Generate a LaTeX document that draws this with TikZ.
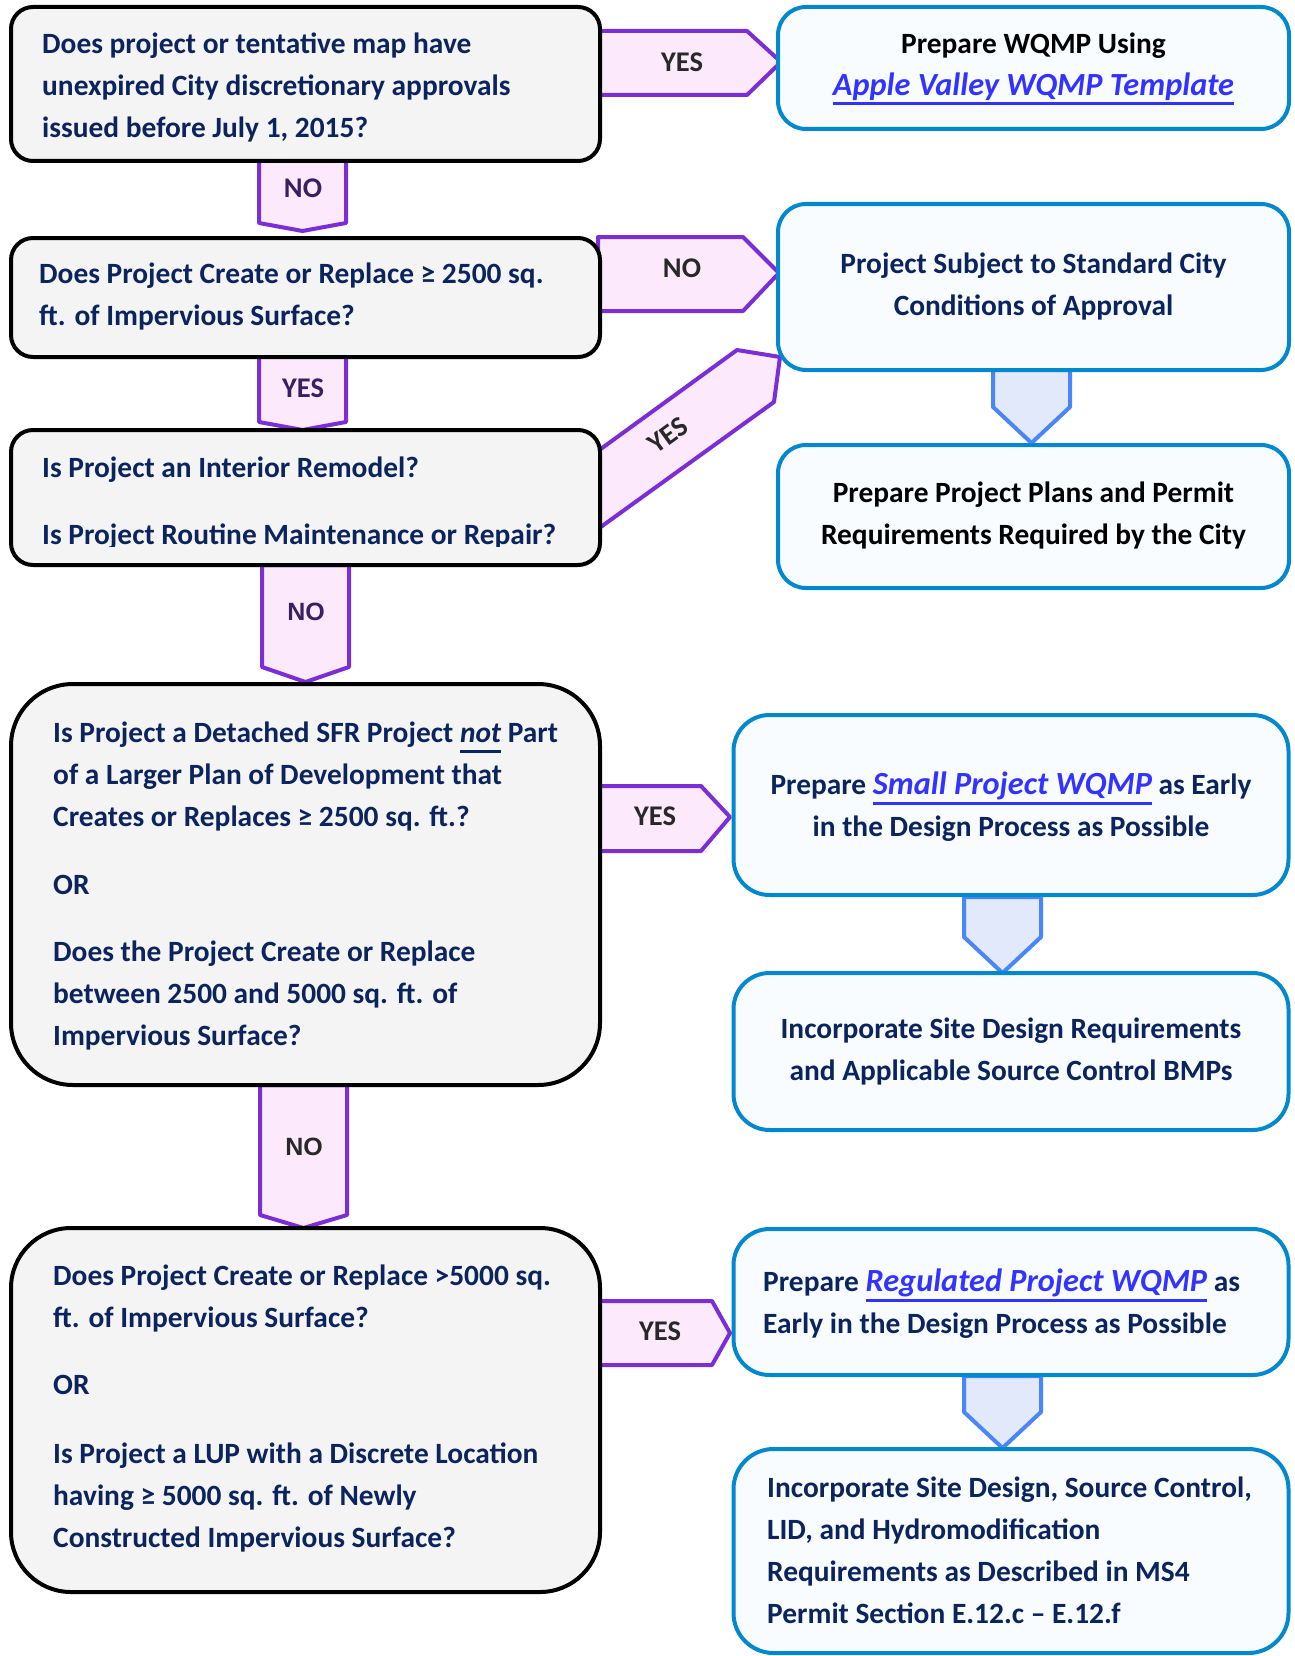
\documentclass[tikz,border=0pt]{standalone}
\usepackage{fontspec}
\setmainfont{Carlito}
\newfontfamily\arialfont{Liberation Sans}
\definecolor{navy}{RGB}{12,36,94}
\definecolor{qfill}{RGB}{244,244,244}
\definecolor{afill}{RGB}{248,252,255}
\definecolor{aborder}{RGB}{2,136,204}
\definecolor{pborder}{RGB}{124,46,214}
\definecolor{pfill}{RGB}{252,234,252}
\definecolor{bborder}{RGB}{74,134,248}
\definecolor{bfill}{RGB}{225,233,251}
\definecolor{linkblue}{RGB}{51,51,255}
\definecolor{lblp}{RGB}{58,32,96}
\definecolor{lblg}{RGB}{40,40,40}
\newsavebox\ulbox
\newcommand\ulx[1]{\sbox\ulbox{#1}\rlap{\rule[-10pt]{\wd\ulbox}{3pt}}\usebox\ulbox}
\newcommand\lnk[1]{{\color{linkblue}\ulx{\fontsize{32.3}{42}\selectfont\itshape #1}}}
\tikzset{
  qbox/.style={draw=black, line width=4pt, fill=qfill, rounded corners=22pt, inner sep=0pt},
  abox/.style={draw=aborder, line width=4pt, fill=afill, rounded corners=28pt, inner sep=0pt},
  parrow/.style={draw=pborder, line width=4pt, fill=pfill, line join=round},
  barrow/.style={draw=bborder, line width=4pt, fill=bfill, line join=round},
  txt/.style={font=\fontsize{29.4}{42}\selectfont\bfseries, text=navy, inner sep=0pt},
  qtext/.style={txt, align=left, anchor=west},
  ctext/.style={txt, align=center},
  lblc/.style={font=\fontsize{28.5}{32}\selectfont\bfseries, inner sep=0pt},
  lbla/.style={font=\arialfont\fontsize{25}{30}\selectfont\bfseries, inner sep=0pt},
}
\begin{document}
\begin{tikzpicture}[x=1pt,y=-1pt]
\useasboundingbox (0,0) rectangle (1294,1656);

% ---------- block arrows (drawn first) ----------
\draw[parrow] (598,31) -- (747,31) -- (781,62) -- (747,95) -- (598,95) -- cycle;
\draw[parrow] (598,237) -- (743,237) -- (779,273) -- (743,311) -- (598,311) -- cycle;
\draw[parrow] (598,786) -- (701,786) -- (730,817) -- (701,851) -- (598,851) -- cycle;
\draw[parrow] (598,1301) -- (712,1301) -- (730,1333) -- (712,1365) -- (598,1365) -- cycle;
\draw[parrow] (598,451) -- (737,350) -- (780,357) -- (774,402) -- (598,529) -- cycle;
\draw[parrow] (259,158) -- (346,158) -- (346,223) -- (302.5,231) -- (259,223) -- cycle;
\draw[parrow] (259,355) -- (346,355) -- (346,422) -- (302.5,430) -- (259,422) -- cycle;
\draw[parrow] (262,565) -- (349,565) -- (349,667) -- (305.5,682) -- (262,667) -- cycle;
\draw[parrow] (260,1085) -- (347,1085) -- (347,1215) -- (303.5,1228) -- (260,1215) -- cycle;
\draw[barrow] (993,368) -- (1070,368) -- (1070,407) -- (1031.5,443) -- (993,407) -- cycle;
\draw[barrow] (964,897) -- (1041,897) -- (1041,937) -- (1002.5,973) -- (964,937) -- cycle;
\draw[barrow] (964,1376) -- (1041,1376) -- (1041,1412) -- (1002.5,1448) -- (964,1412) -- cycle;

% ---------- boxes ----------
\node[qbox, minimum width=589pt, minimum height=154pt] (Q1) at (305.5,84) {};
\node[qbox, minimum width=589pt, minimum height=119pt] (Q2) at (305.5,297.5) {};
\node[qbox, minimum width=589pt, minimum height=135pt] (Q3) at (305.5,497.5) {};
\node[qbox, rounded corners=62pt, minimum width=589pt, minimum height=401pt] (Q4) at (305.5,884.5) {};
\node[qbox, rounded corners=60pt, minimum width=589pt, minimum height=364pt] (Q5) at (305.5,1410) {};

\node[abox, minimum width=511pt, minimum height=122pt] (A1) at (1033.5,68) {};
\node[abox, minimum width=511pt, minimum height=166pt] (A2) at (1033.5,287) {};
\node[abox, minimum width=511pt, minimum height=143pt] (A3) at (1033.5,516.5) {};
\node[abox, rounded corners=36pt, minimum width=555pt, minimum height=180pt] (A4) at (1011,805) {};
\node[abox, rounded corners=36pt, minimum width=555pt, minimum height=157pt] (A5) at (1011,1051.5) {};
\node[abox, rounded corners=36pt, minimum width=555pt, minimum height=146pt] (A6) at (1011,1302) {};
\node[abox, rounded corners=40pt, minimum width=555pt, minimum height=204pt] (A7) at (1011,1551) {};

% ---------- texts ----------
\node[qtext] at (42,87) {Does project or tentative map have\\unexpired City discretionary approvals\\issued before July 1, 2015?};
\node[qtext] at (39,296) {Does Project Create or Replace ≥ 2500 sq.\\ft. of Impervious Surface?};
\begin{scope}
\clip (11,430) rectangle (600,546);
\node[txt, anchor=base west] at (42,477) {Is Project an Interior Remodel?};
\node[txt, anchor=base west] at (42,544) {Is Project Routine Maintenance or Repair?};
\end{scope}
\node[qtext] at (53,886) {Is Project a Detached SFR Project \ulx{\itshape not} Part\\of a Larger Plan of Development that\\Creates or Replaces ≥ 2500 sq. ft.?\\[26pt]OR\\[25pt]Does the Project Create or Replace\\between 2500 and 5000 sq. ft. of\\Impervious Surface?};
\node[qtext] at (53,1408) {Does Project Create or Replace >5000 sq.\\ft. of Impervious Surface?\\[25pt]OR\\[27pt]Is Project a LUP with a Discrete Location\\having ≥ 5000 sq. ft. of Newly\\Constructed Impervious Surface?};

\node[ctext, text=black] at (1033.5,69) {Prepare WQMP Using\\\lnk{Apple Valley WQMP Template}};
\node[ctext] at (1033.5,286) {Project Subject to Standard City\\Conditions of Approval};
\node[ctext, text=black] at (1033.5,515) {Prepare Project Plans and Permit\\Requirements Required by the City};
\node[ctext] at (1011,807) {Prepare \lnk{Small Project WQMP} as Early\\in the Design Process as Possible};
\node[ctext] at (1011,1051) {Incorporate Site Design Requirements\\and Applicable Source Control BMPs};
\node[qtext] at (763,1304) {Prepare \lnk{Regulated Project WQMP} as\\Early in the Design Process as Possible};
\node[qtext] at (767,1550) {Incorporate Site Design, Source Control,\\LID, and Hydromodification\\Requirements as Described in MS4\\Permit Section E.12.c – E.12.f};

% ---------- arrow labels ----------
\node[lblc, text=lblg] at (682,62) {YES};
\node[lblc, text=lblg] at (682,268) {NO};
\node[lblc, text=lblg] at (655,816) {YES};
\node[lblc, text=lblg] at (660,1331) {YES};
\node[lblc, text=lblg, rotate=36] at (668,435) {YES};
\node[lblc, text=lblp] at (303,188) {NO};
\node[lblc, text=lblp] at (303,388) {YES};
\node[lbla, text=lblp] at (306,612) {NO};
\node[lbla, text=lblg] at (304,1147) {NO};
\end{tikzpicture}
\end{document}
